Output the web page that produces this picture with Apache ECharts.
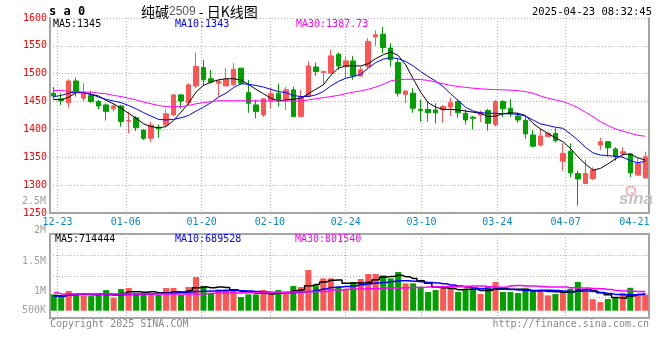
<!DOCTYPE html>
<html><head><meta charset="utf-8">
<script src="https://cdn.jsdelivr.net/npm/echarts/dist/echarts.min.js"></script>
<style>html,body{margin:0;padding:0;background:#fff}#c{width:660px;height:360px}</style>
</head><body><div id="c"></div><script>
// ---- data ----
const dates = ['12-20','12-23','12-24','12-25','12-26','12-27','12-30','12-31','01-02','01-03',
 '01-06','01-07','01-08','01-09','01-10','01-13','01-14','01-15','01-16','01-17',
 '01-20','01-21','01-22','01-23','01-24','01-27','02-05','02-06','02-07','02-10',
 '02-11','02-12','02-13','02-14','02-17','02-18','02-19','02-20','02-21','02-24',
 '02-25','02-26','02-27','02-28','03-03','03-04','03-05','03-06','03-07','03-10',
 '03-11','03-12','03-13','03-14','03-17','03-18','03-19','03-20','03-21','03-24',
 '03-25','03-26','03-27','03-28','03-31','04-01','04-02','04-03','04-07','04-08',
 '04-09','04-10','04-11','04-14','04-15','04-16','04-17','04-18','04-21','04-22'];
const tickDates = ['12-23','01-06','01-20','02-10','02-24','03-10','03-24','04-07','04-21'];
const opens = [1465,1455,1448,1487,1456,1461,1450,1444,1437,1442,
 1415,1421,1399,1384,1404,1408,1426,1462,1448,1478,
 1511,1491,1483,1478,1480,1510,1466,1444,1426,1452,
 1465,1453,1471,1423,1459,1512,1502,1501,1535,1513,
 1523,1496,1513,1566,1571,1546,1520,1463,1465,1436,
 1436,1435,1435,1440,1450,1429,1422,1426,1434,1409,
 1450,1438,1424,1416,1390,1372,1387,1393,1343,1361,
 1321,1303,1312,1372,1378,1365,1357,1356,1318,1313];
const closes = [1460,1452,1487,1468,1465,1450,1442,1432,1442,1414,
 1416,1403,1384,1408,1401,1428,1462,1451,1480,1513,
 1489,1485,1487,1490,1508,1483,1447,1432,1455,1464,
 1453,1471,1423,1459,1514,1504,1504,1532,1514,1523,
 1496,1507,1558,1570,1547,1525,1465,1469,1438,1434,
 1430,1430,1441,1448,1430,1417,1420,1431,1411,1450,
 1437,1428,1417,1392,1370,1388,1393,1380,1357,1322,
 1311,1321,1327,1378,1367,1351,1360,1322,1339,1351];
const lows = [1453,1444,1439,1459,1450,1448,1436,1416,1432,1405,
 1393,1397,1381,1377,1385,1405,1424,1437,1443,1474,
 1478,1482,1459,1478,1479,1480,1430,1420,1422,1438,
 1441,1435,1423,1423,1458,1496,1480,1500,1507,1493,
 1489,1495,1510,1550,1537,1513,1459,1447,1430,1414,
 1414,1411,1412,1424,1421,1409,1400,1413,1398,1405,
 1422,1422,1412,1383,1368,1369,1386,1376,1326,1314,
 1263,1302,1309,1363,1351,1344,1349,1314,1317,1312];
const highs = [1476,1465,1490,1493,1483,1469,1453,1447,1446,1444,
 1432,1424,1400,1414,1409,1436,1464,1464,1483,1538,
 1525,1507,1489,1510,1519,1510,1489,1453,1455,1474,
 1482,1476,1477,1471,1522,1520,1505,1543,1538,1531,
 1532,1513,1564,1578,1584,1555,1526,1470,1474,1453,
 1450,1447,1444,1457,1454,1436,1424,1434,1437,1453,
 1453,1454,1430,1424,1399,1402,1394,1402,1375,1375,
 1326,1346,1332,1385,1378,1368,1368,1358,1348,1360];
const ma5 = [1454,1453,1458,1466,1466,1463,1460,1452,1446,1438,
 1429,1420,1410,1405,1403,1405,1416,1431,1447,1467,
 1479,1485,1489,1491,1491,1489,1481,1472,1464,1456,
 1451,1453,1454,1456,1464,1472,1480,1497,1510,1514,
 1514,1514,1518,1527,1534,1539,1533,1516,1491,1467,
 1448,1440,1436,1436,1435,1433,1431,1429,1423,1424,
 1428,1430,1429,1425,1411,1401,1393,1385,1378,1366,
 1351,1338,1327,1330,1338,1347,1355,1356,1349,1345];
const ma10 = [1459,1461,1465,1467,1466,1463,1458,1454,1451,1448,
 1443,1437,1430,1424,1418,1417,1418,1421,1425,1433,
 1440,1448,1458,1465,1475,1482,1481,1479,1476,1472,
 1468,1466,1461,1459,1459,1462,1468,1478,1486,1492,
 1495,1499,1510,1520,1526,1529,1527,1522,1514,1504,
 1495,1487,1477,1464,1452,1440,1433,1430,1429,1429,
 1428,1428,1427,1424,1417,1410,1407,1404,1402,1392,
 1381,1368,1358,1354,1353,1352,1350,1344,1340,1343];
const ma30 = [1470,1470,1468,1468,1467,1467,1465,1464,1461,1459,
 1456,1453,1449,1446,1443,1441,1440.5,1441,1443,1446,
 1448,1450,1451.5,1451.5,1451.5,1451.5,1451.5,1451.5,1451,1451,
 1451,1451,1451,1451,1453,1455,1457,1459,1461,1464,
 1467,1469,1472,1476,1481,1487,1489.5,1490,1490,1489.5,
 1488,1485,1482,1479,1477,1475.5,1474,1473,1472,1471.5,
 1471,1470.5,1469.5,1468,1465,1460,1456,1453,1450,1445,
 1439,1431,1423,1414,1407,1401,1397,1393,1389.5,1387.73];
// volume, in thousands of lots
const vols = [681,611,820,653,625,611,722,861,542,903,
 945,722,722,722,653,945,945,653,986,1403,
 1028,722,889,889,861,569,681,681,861,695,
 861,722,1028,986,1695,1056,1347,1347,1000,903,
 1195,1320,1528,1528,1472,1347,1611,1139,1139,1000,
 778,861,1000,972,778,861,900,695,1000,1195,
 778,778,736,931,861,847,639,694,806,917,
 1200,806,480,361,486,550,745,955,648,674];
const volMa5 = [620,615,680,680,678,665,686,694,672,720,
 790,790,767,790,753,753,790,784,830,960,
 990,958,990,970,878,800,778,740,731,700,
 750,760,830,858,1040,1090,1200,1270,1280,1140,
 1150,1150,1190,1290,1400,1430,1480,1419,1340,1250,
 1140,990,956,922,878,890,900,841,847,920,
 910,889,890,880,820,830,803,794,770,781,
 850,880,842,753,667,545,524,610,677,714.444];
const volMa10 = [611,611,650,690,695,690,670,660,655,660,
 670,680,690,700,722,730,740,760,780,800,
 810,820,830,840,840,830,820,800,780,760,
 750,750,760,780,800,850,903,972,990,1010,
 1040,1080,1120,1150,1180,1220,1250,1250,1230,1210,
 1180,1150,1120,1070,1030,990,944,910,890,890,
 889,880,860,845,840,850,850,840,820,800,
 810,820,800,760,720,680,660,660,670,689.528];
const volMa30 = [750,700,695,695,695,695,695,695,695,695,
 695,695,695,695,695,695,695,695,695,700,
 705,730,736,736,736,740,745,760,764,764,
 768,772,780,792,792,795,800,861,861,890,
 903,903,910,920,944,944,944,960,972,972,
 990,1000,1000,1000,1010,1020,1028,1028,1000,980,
 975,1040,1050,1030,1028,1010,990,986,986,960,
 944,944,930,917,880,847,820,806,800,801.540];
const volTickLabels = ['2.5M','2M','1.5M','1M','500K'];
const symbolName = 's a 0';
const titleName = '纯碱';
const contractNo = '2509';
const titleTail = ' - 日K线图';
const stamp = '2025-04-23 08:32:45';

// ---- chart ----
const MONO = '"DejaVu Sans Mono", monospace';
const AXIS_C = '#a4a4a4';
const GRID_C = '#b0b0b0';
const UP = '#ff5555', DOWN = '#00a000';
const n = dates.length;
const tickIdx = tickDates.map(d => dates.indexOf(d));
const lastTick = tickIdx[tickIdx.length - 1];
const gridIdx = tickIdx.slice(0, -1);
const dotted = {color: GRID_C, type: [1, 2], width: 1};
const last = a => a[a.length - 1];

function txt(x, y, text, color, font, align) {
  return {type: 'text', x: x, y: y, silent: true, z: 50,
    style: {text: text, fill: color, font: font, align: align || 'left', verticalAlign: 'middle',
            textAlign: align || 'left', textVerticalAlign: 'middle'}};
}
const volTickY = [201, 230.5, 261, 291, 310.5];
const graphics = [
  txt(49, 12, symbolName, '#000', 'bold 12px ' + MONO),
  {type: 'text', x: 141, y: 12, silent: true, z: 50,
   style: {text: '{a|' + titleName + '}{b|' + contractNo + '}{a|' + titleTail + '}',
     verticalAlign: 'middle', textVerticalAlign: 'middle',
     rich: {a: {fontFamily: '"Noto Sans CJK SC"', fontSize: 14, fill: '#000', color: '#000'},
            b: {fontFamily: '"Liberation Sans"', fontSize: 12, fill: '#555', color: '#555'}}}},
  txt(652, 12, stamp, '#000', '10.5px ' + MONO, 'right'),
  txt(53, 24, 'MA5:' + last(ma5), '#000', '10px ' + MONO),
  txt(175, 24, 'MA10:' + last(ma10), '#0000ff', '10px ' + MONO),
  txt(296, 24, 'MA30:' + last(ma30), '#ff00ff', '10px ' + MONO),
  txt(55, 239, 'MA5:' + Math.round(last(volMa5) * 1000), '#000', '10px ' + MONO),
  txt(175, 239, 'MA10:' + Math.round(last(volMa10) * 1000), '#0000ff', '10px ' + MONO),
  txt(295, 239, 'MA30:' + Math.round(last(volMa30) * 1000), '#ff00ff', '10px ' + MONO),
  txt(50, 324, 'Copyright 2025 SINA.COM', '#888', '10px ' + MONO),
  txt(649, 324, 'http://finance.sina.com.cn', '#888', '10px ' + MONO, 'right'),
  {type: 'circle', shape: {cx: 631, cy: 191, r: 4.5}, silent: true, z: 40,
   style: {fill: 'none', stroke: '#f2b4b4', lineWidth: 2}},
  txt(619, 199, 'sina', '#c4c4c4', 'italic bold 17px "Liberation Sans"')
];
volTickLabels.forEach((t, i) => graphics.push(txt(46, volTickY[i], t, '#a0a0a0', '10px ' + MONO, 'right')));

const chart = echarts.init(document.getElementById('c'));
chart.setOption({
  animation: false,
  backgroundColor: '#fff',
  grid: [
    {left: 50, right: 11, top: 18, height: 195, outerBoundsMode: 'none'},
    {left: 50, right: 11, top: 234, height: 84, show: true, borderColor: AXIS_C, borderWidth: 2, outerBoundsMode: 'none'}
  ],
  xAxis: [
    {type: 'category', gridIndex: 0, data: dates, boundaryGap: true,
     axisLine: {onZero: false, lineStyle: {color: AXIS_C, width: 2}}, axisTick: {show: false},
     axisLabel: {show: false}, splitLine: {show: false}},
    {type: 'value', gridIndex: 0, min: 0, max: n - 1, position: 'bottom',
     axisLine: {show: false}, axisTick: {show: false, customValues: gridIdx},
     axisLabel: {customValues: tickIdx, color: '#0a88cc', fontFamily: MONO, fontSize: 10, margin: 4,
       formatter: v => v === lastTick ? '{s|' + dates[v] + '}' : dates[v],
       rich: {s: {padding: [0, 14, 0, 0], color: '#0a88cc', fontFamily: MONO, fontSize: 10}}},
     splitLine: {show: true, lineStyle: dotted}},
    {type: 'category', gridIndex: 1, data: dates, boundaryGap: true,
     axisLine: {show: false}, axisTick: {show: false}, axisLabel: {show: false}, splitLine: {show: false}},
    {type: 'value', gridIndex: 1, min: 0, max: n - 1,
     axisLine: {show: false}, axisTick: {show: false, customValues: gridIdx},
     axisLabel: {show: false}, splitLine: {show: true, lineStyle: dotted}}
  ],
  yAxis: [
    {type: 'value', gridIndex: 0, min: 1250, max: 1600, interval: 50, position: 'left',
     axisLine: {show: true, lineStyle: {color: AXIS_C, width: 2}}, axisTick: {show: false},
     axisLabel: {color: '#ff0000', fontFamily: MONO, fontSize: 10, margin: 3, formatter: v => String(v)},
     splitLine: {show: true, lineStyle: dotted}},
    {type: 'value', gridIndex: 0, min: 1250, max: 1600, position: 'right',
     axisLine: {show: true, lineStyle: {color: AXIS_C, width: 2}}, axisTick: {show: false},
     axisLabel: {show: false}, splitLine: {show: false}},
    {type: 'value', gridIndex: 1, min: -304, max: 3196,
     axisLine: {show: false}, axisTick: {show: false}, axisLabel: {show: false}, splitLine: {show: false}},
    {type: 'value', gridIndex: 1, min: 0, max: 4, interval: 1,
     axisLine: {show: false}, axisTick: {show: false}, axisLabel: {show: false},
     splitLine: {show: true, lineStyle: dotted}}
  ],
  series: [
    {type: 'candlestick', xAxisIndex: 0, yAxisIndex: 0, barWidth: 5,
     data: dates.map((d, i) => [opens[i], closes[i], lows[i], highs[i]]),
     itemStyle: {color: UP, color0: DOWN, borderColor: UP, borderColor0: DOWN, borderWidth: 1}, z: 2},
    {type: 'line', xAxisIndex: 0, yAxisIndex: 0, data: ma5, symbol: 'none', lineStyle: {color: '#000', width: 1}, z: 4, silent: true},
    {type: 'line', xAxisIndex: 0, yAxisIndex: 0, data: ma10, symbol: 'none', lineStyle: {color: '#0000ff', width: 1}, z: 4, silent: true},
    {type: 'line', xAxisIndex: 0, yAxisIndex: 0, data: ma30, symbol: 'none', lineStyle: {color: '#ff00ff', width: 1}, z: 4, silent: true},
    {type: 'bar', xAxisIndex: 2, yAxisIndex: 2, barWidth: 6,
     data: vols.map((v, i) => ({value: v, itemStyle: {color: closes[i] >= opens[i] ? UP : DOWN}})), z: 2},
    {type: 'line', xAxisIndex: 2, yAxisIndex: 2, data: volMa5, step: 'middle', symbol: 'none', lineStyle: {color: '#000', width: 1.5}, z: 4, silent: true},
    {type: 'line', xAxisIndex: 2, yAxisIndex: 2, data: volMa10, step: 'middle', symbol: 'none', lineStyle: {color: '#0000ff', width: 1.5}, z: 4, silent: true},
    {type: 'line', xAxisIndex: 2, yAxisIndex: 2, data: volMa30, step: 'middle', symbol: 'none', lineStyle: {color: '#ff00ff', width: 1.5}, z: 4, silent: true}
  ],
  graphic: graphics
});
</script></body></html>
